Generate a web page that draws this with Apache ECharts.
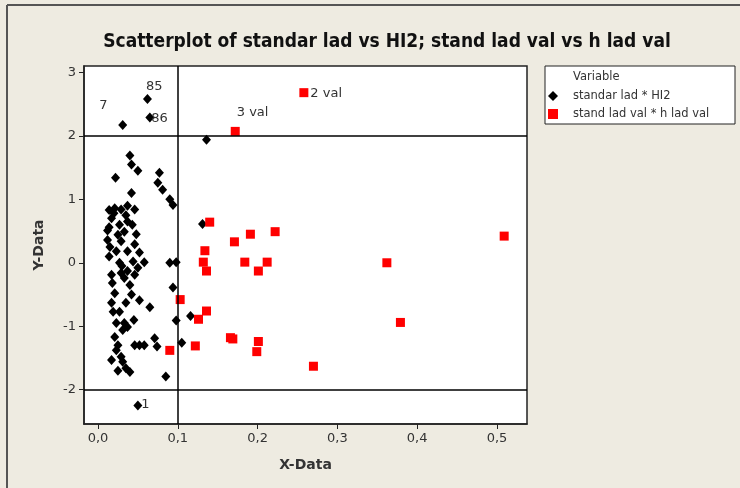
<!DOCTYPE html>
<html>
<head>
<meta charset="utf-8">
<script src="https://cdn.jsdelivr.net/npm/echarts@6/dist/echarts.min.js"></script>
<style>
  html, body { margin: 0; padding: 0; background: #eeebe1; }
  #chart { width: 740px; height: 488px; }
</style>
</head>
<body>
<div id="chart"></div>
<script>
// standar lad * HI2 (first four points carry a tag)
const blackTags = ['85', '86', '7', '1'];
const blackX = [0.062, 0.065, 0.031, 0.050,
  0.136, 0.040, 0.042, 0.050, 0.022, 0.077, 0.075, 0.081, 0.090, 0.094, 0.042,
  0.014, 0.021, 0.029, 0.037, 0.046, 0.017, 0.035, 0.014, 0.027, 0.037, 0.012,
  0.025, 0.029, 0.046, 0.023, 0.014, 0.037, 0.044, 0.027, 0.058, 0.050, 0.017,
  0.029, 0.037, 0.046, 0.033, 0.090, 0.098, 0.094, 0.021, 0.042, 0.017, 0.035,
  0.065, 0.027, 0.019, 0.023, 0.033, 0.037, 0.098, 0.021, 0.025, 0.046, 0.052,
  0.058, 0.071, 0.074, 0.105, 0.023, 0.029, 0.031, 0.025, 0.035, 0.085, 0.131,
  0.116, 0.012, 0.033, 0.052, 0.018, 0.040, 0.052, 0.031, 0.017, 0.040, 0.020,
  0.043, 0.015, 0.030, 0.045, 0.048];
const blackY = [2.58, 2.29, 2.17, -2.25,
  1.94, 1.69, 1.55, 1.45, 1.34, 1.42, 1.26, 1.15, 1.00, 0.91, 1.10,
  0.83, 0.86, 0.84, 0.90, 0.84, 0.70, 0.75, 0.56, 0.60, 0.65, 0.51,
  0.44, 0.34, 0.29, 0.18, 0.10, 0.18, 0.02, 0.00, 0.01, -0.08, -0.19,
  -0.16, -0.13, -0.19, -0.24, 0.00, 0.01, -0.39, -0.48, -0.50, -0.63, -0.63,
  -0.70, -0.77, -0.77, -0.95, -0.95, -1.01, -0.91, -1.17, -1.30, -1.30, -1.30,
  -1.30, -1.19, -1.32, -1.26, -1.38, -1.48, -1.56, -1.70, -1.66, -1.79, 0.61,
  -0.84, 0.36, 0.49, 0.16, -0.32, -0.35, -0.59, -1.06, -1.53, -1.72, 0.78,
  0.60, 0.25, -0.05, -0.90, 0.45];

// stand lad val * h lad val (first two points carry a tag)
const redTags = ['2 val', '3 val'];
const redX = [0.258, 0.172,
  0.140, 0.191, 0.222, 0.171, 0.134, 0.132, 0.136, 0.184, 0.212, 0.201,
  0.103, 0.136, 0.126, 0.166, 0.169, 0.201, 0.199, 0.122, 0.090, 0.270,
  0.509, 0.362, 0.379];
const redY = [2.68, 2.07,
  0.64, 0.45, 0.49, 0.33, 0.19, 0.01, -0.13, 0.01, 0.01, -0.13,
  -0.58, -0.76, -0.89, -1.18, -1.20, -1.24, -1.40, -1.31, -1.38, -1.63,
  0.42, 0.00, -0.94];

const xTicks = [0, 0.1, 0.2, 0.3, 0.4, 0.5];
const yTicks = [-2, -1, 0, 1, 2, 3];
const refX = [0.1];
const refY = [2, -2];

const labelPos = {
  '85': [3, -14], '86': [6, 0], '7': [-19, -21], '1': [8, -2],
  '2 val': [11, -1], '3 val': [6, -21]
};

function points(xs, ys, tags) {
  return xs.map((x, i) => {
    const tag = tags[i];
    const item = { value: [x, ys[i]] };
    if (tag) {
      item.label = {
        show: true, formatter: tag, position: labelPos[tag],
        color: '#333', fontFamily: 'DejaVu Sans', fontSize: 13
      };
    }
    return item;
  });
}

const font = 'DejaVu Sans';
const chart = echarts.init(document.getElementById('chart'));
chart.setOption({
  backgroundColor: '#eeebe1',
  animation: false,
  title: {
    text: 'Scatterplot of standar lad vs HI2; stand lad val vs h lad val',
    left: 382, top: 28, textAlign: 'center',
    textStyle: { fontFamily: 'DejaVu Sans Condensed', fontWeight: 'bold', fontSize: 19, color: '#111' }
  },
  grid: {
    left: 84, top: 66, right: 213, bottom: 64,
    show: true, backgroundColor: '#fff', borderColor: '#222', borderWidth: 1.5
  },
  legend: {
    left: 543, top: 85, orient: 'vertical', itemWidth: 10, itemHeight: 10, itemGap: 6,
    textStyle: { fontFamily: font, fontSize: 11.5, color: '#333', padding: [0, 0, 0, 10] },
    data: [
      { name: 'standar lad * HI2', icon: 'diamond' },
      { name: 'stand lad val * h lad val', icon: 'rect' }
    ]
  },
  graphic: [
    { type: 'line', shape: { x1: 7, y1: 5, x2: 740, y2: 5 }, style: { stroke: '#555', lineWidth: 2 } },
    { type: 'line', shape: { x1: 7, y1: 5, x2: 7, y2: 488 }, style: { stroke: '#555', lineWidth: 2 } },
    { type: 'rect', shape: { x: 545, y: 66, width: 190, height: 58 }, style: { fill: '#fff', stroke: '#222', lineWidth: 1 }, z: -1 },
    { type: 'text', left: 573, top: 71, style: { text: 'Variable', font: '11.5px DejaVu Sans', fill: '#333' } }
  ],
  xAxis: {
    type: 'value', min: -0.0175, max: 0.5376,
    name: 'X-Data', nameLocation: 'middle', nameGap: 34,
    nameTextStyle: { fontFamily: font, fontWeight: 'bold', fontSize: 14, color: '#333' },
    axisLine: { show: true, onZero: false, lineStyle: { color: '#222', width: 1.5 } },
    splitLine: { show: false },
    axisTick: { show: true, length: 5, customValues: xTicks, lineStyle: { color: '#222' } },
    axisLabel: {
      customValues: xTicks, fontFamily: font, fontSize: 13, color: '#333', margin: 8,
      formatter: v => v.toFixed(1).replace('.', ',')
    }
  },
  yAxis: {
    type: 'value', min: -2.54, max: 3.10,
    name: 'Y-Data', nameLocation: 'middle', nameGap: 38, nameRotate: 90,
    nameTextStyle: { fontFamily: font, fontWeight: 'bold', fontSize: 14, color: '#333' },
    axisLine: { show: true, onZero: false, lineStyle: { color: '#222', width: 1.5 } },
    splitLine: { show: false },
    axisTick: { show: true, length: 5, customValues: yTicks, lineStyle: { color: '#222' } },
    axisLabel: { customValues: yTicks, fontFamily: font, fontSize: 13, color: '#333', margin: 8 }
  },
  series: [
    {
      name: 'standar lad * HI2', type: 'scatter', symbol: 'diamond', symbolSize: [9, 10],
      itemStyle: { color: '#000', opacity: 1 },
      data: points(blackX, blackY, blackTags),
      markLine: {
        silent: true, symbol: 'none', label: { show: false },
        lineStyle: { color: '#000', width: 1.5, type: 'solid' },
        data: refX.map(v => ({ xAxis: v })).concat(refY.map(v => ({ yAxis: v })))
      }
    },
    {
      name: 'stand lad val * h lad val', type: 'scatter', symbol: 'rect', symbolSize: 9,
      itemStyle: { color: '#ff0000', opacity: 1 },
      data: points(redX, redY, redTags)
    }
  ]
});
</script>
</body>
</html>
